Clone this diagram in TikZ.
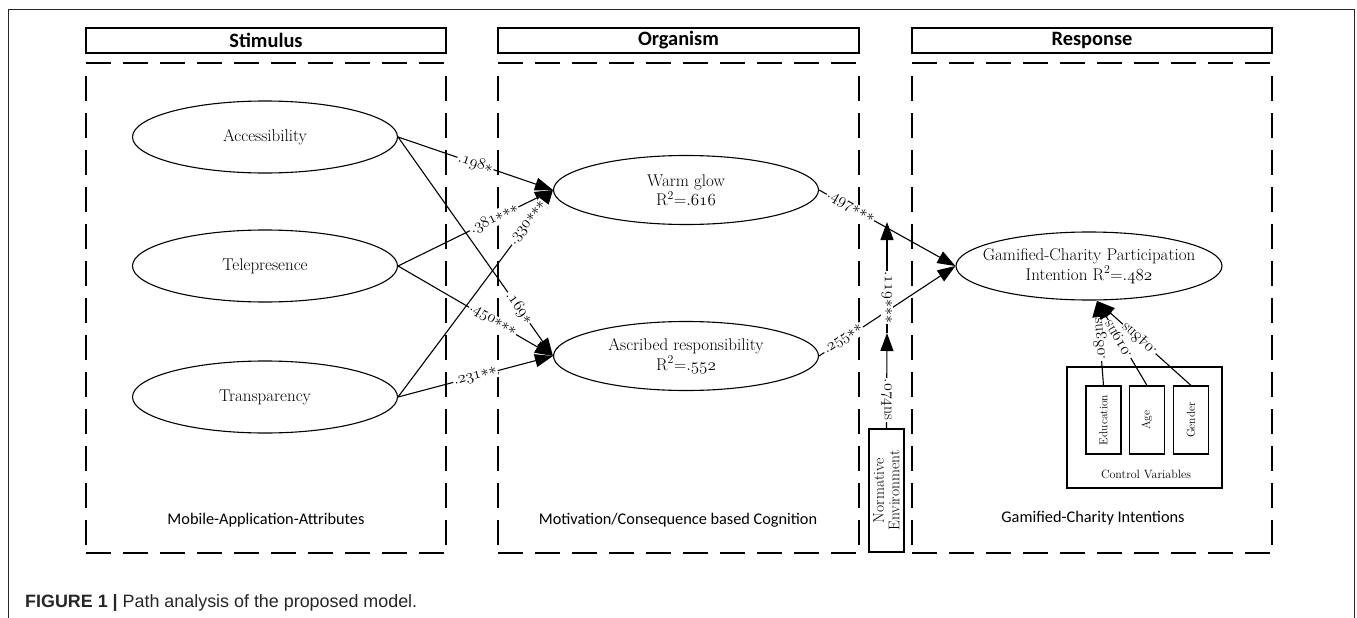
\RequirePackage{fix-cm}
\documentclass[tikz,border=0pt]{standalone}
\usepackage{fontspec}
\newfontfamily\hdrfont{Carlito}
\newfontfamily\capfont{Liberation Sans}
\usetikzlibrary{shapes.geometric,arrows.meta}
\newcommand\osn[1]{\ensuremath{\mathnormal{#1}}}
\newcommand\sg[1]{\ensuremath{\mathnormal{#1}\foreach\k in {1,...,#1}{}}}
\newcommand\sa{\ensuremath{{\ast}}}
\tikzset{
  latv/.style={draw, ellipse, line width=1.1pt, minimum width=265pt, minimum height=72pt, inner sep=0pt,
    font=\fontsize{17}{19.5}\selectfont, align=center},
  hdr/.style={draw, line width=1.3pt, minimum width=360pt, minimum height=25pt, inner sep=0pt,
    font=\hdrfont\bfseries\fontsize{20.4}{23}\selectfont},
  zone/.style={dash pattern=on 25pt off 12pt, line width=1.2pt},
  zlab/.style={font=\hdrfont\fontsize{16.3}{19}\selectfont, inner sep=0pt},
  eff/.style={-{Triangle[length=18pt,width=13pt]}, line width=1.1pt},
  coef/.style={sloped, fill=white, inner sep=1pt, font=\fontsize{16}{18}\selectfont},
  vlab/.style={fill=white, inner sep=1pt, rotate=-90, font=\fontsize{16}{18}\selectfont},
  cvar/.style={draw, line width=1.1pt, rotate=90, minimum width=68pt, minimum height=35pt, inner sep=0pt,
    font=\fontsize{11.5}{13}\selectfont},
}
\begin{document}
\begin{tikzpicture}[x=1pt,y=-1pt]
\useasboundingbox (0,0) rectangle (1357,618);
% outer frame
\draw[line width=1pt, black!85] (8,618) -- (8,10) -- (1354,10) -- (1354,618);
% headers
\node[hdr] (hs) at (266,40.5) {Stimulus};
\node[hdr, minimum width=361pt] (ho) at (678.5,40.5) {Organism};
\node[hdr] (hr) at (1092,40.5) {Response};
% dashed zones
\foreach \xa/\xb in {86/446, 498/859, 912/1272}{
  \draw[zone] (\xa,63) -- (\xb,63);
  \draw[zone] (\xa,553) -- (\xb,553);
  \draw[zone] (\xa,76) -- (\xa,553);
  \draw[zone] (\xb,76) -- (\xb,553);
}
\node[zlab] (z1) at (266,520) {Mobile-Application-Attributes};
\node[zlab] (z2) at (678,520) {Motivation/Consequence based Cognition};
\node[zlab] (z3) at (1093,518) {Gamified-Charity Intentions};
% latent variables
\node[latv] (acc) at (265,137) {Accessibility};
\node[latv] (tel) at (265,266) {Telepresence};
\node[latv] (tra) at (265,397) {Transparency};
\node[latv, minimum height=69pt] (wg) at (686,190) {Warm glow\\R\textsuperscript{2}=\osn{.616}};
\node[latv, minimum height=69pt] (ar) at (686,356) {Ascribed responsibility\\R\textsuperscript{2}=\osn{.552}};
\node[latv, minimum height=68pt, minimum width=266pt, inner xsep=-13pt] (gam) at (1089,266) {Gamified-Charity Participation\\Intention R\textsuperscript{2}=\osn{.482}};
% normative environment
\node[draw, line width=1.1pt, rotate=90, minimum width=123pt, minimum height=35pt, inner sep=0pt,
  align=center, font=\fontsize{15.5}{15.5}\selectfont] (norm) at (886.5,490.5) {Normative\\Environment};
% control variables
\node[draw, line width=1.1pt, minimum width=155pt, minimum height=121pt] (cvbox) at (1144.5,427.5) {};
\node[font=\fontsize{12}{13}\selectfont] (cvlab) at (1146,474) {Control Variables};
\node[cvar] (edu) at (1103.5,420) {Education};
\node[cvar] (age) at (1147,420) {Age};
\node[cvar] (gen) at (1191,420) {Gender};
% paths
\draw[eff] (acc.east) -- node[coef,pos=.5]{\osn{.198}\sa} (wg.west);
\draw[eff] (acc.east) -- node[coef,pos=.78]{\osn{.169}\sa} (ar.west);
\draw[eff] (tel.east) -- node[coef,pos=.62]{\osn{.381}\sa\sa\sa} (wg.west);
\draw[eff] (tel.east) -- node[coef,pos=.61]{\osn{.450}\sa\sa\sa} (ar.west);
\draw[eff] (tra.east) -- node[coef,pos=.84]{\osn{.330}\sa\sa\sa} (wg.west);
\draw[eff] (tra.east) -- node[coef,pos=.5]{\osn{.231}\sa\sa} (ar.west);
\draw[eff] (wg.east) -- node[coef,pos=.23]{\osn{.497}\sa\sa\sa} (gam.west);
\draw[eff] (ar.east) -- node[coef,pos=.18]{\osn{.255}\sa\sa} (gam.west);
% moderation
\coordinate (m1) at (887,222);
\coordinate (m2) at (887,333);
\draw[eff] (norm.east) -- node[vlab,pos=.3]{\osn{.074}ns} (m2);
\draw[eff] (m2) -- node[vlab,pos=.32]{\osn{.119}\sa\sa\sa} (m1);
% controls
\coordinate (gs) at (1097,301);
\draw[eff] (edu.east) -- node[coef,allow upside down,pos=.55]{\osn{.083}ns} (gs);
\draw[eff] (age.east) -- node[coef,allow upside down,pos=.55]{\osn{.019}ns} (gs);
\draw[eff] (gen.east) -- node[coef,allow upside down,pos=.55]{\osn{.048}ns} (gs);
% caption
\node[anchor=west, inner sep=0pt, text=black!85, font=\capfont\fontsize{17.9}{20}\selectfont] (cap) at (25,603)
  {\textbf{FIGURE 1 |} Path analysis of the proposed model.};
\end{tikzpicture}
\end{document}
